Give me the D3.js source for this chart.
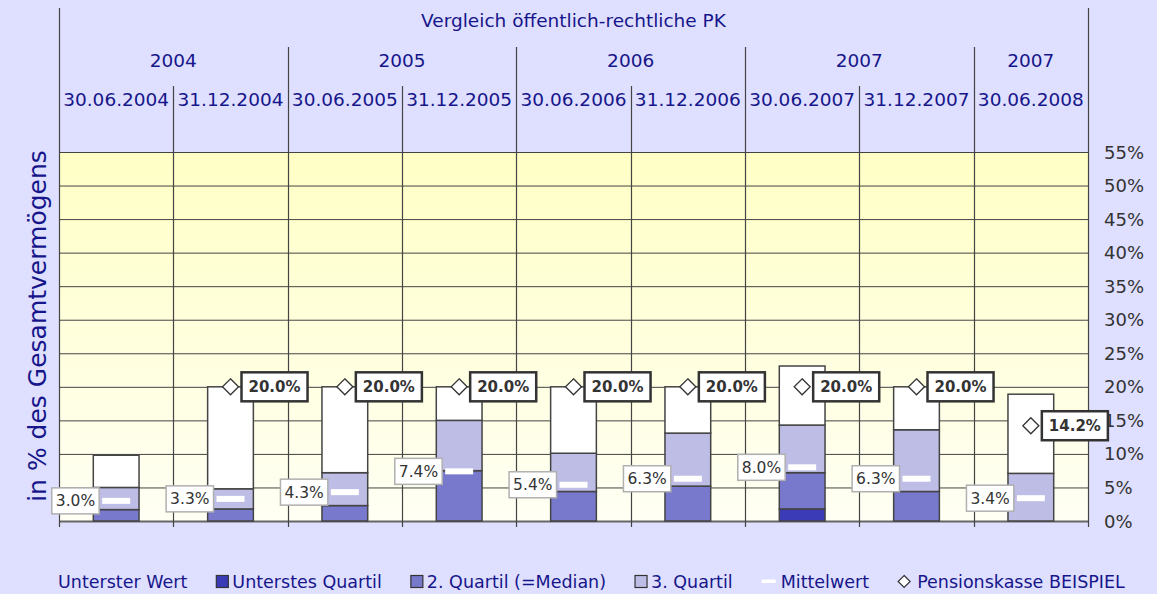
<!DOCTYPE html>
<html>
<head>
<meta charset="utf-8">
<script src="https://cdn.jsdelivr.net/npm/d3@7"></script>
<style>
  body { margin: 0; background: #dfdfff; }
  svg { display: block; font-family: "DejaVu Sans", Verdana, sans-serif; }
</style>
</head>
<body>
<div id="chart"></div>
<script>
// chart data
var title = "Vergleich öffentlich-rechtliche PK";
var dates = ["30.06.2004", "31.12.2004", "30.06.2005", "31.12.2005", "30.06.2006",
             "31.12.2006", "30.06.2007", "31.12.2007", "30.06.2008"];
var yearLabels = ["2004", "2005", "2006", "2007", "2007"];
var yearSpans = [2, 2, 2, 2, 1];

var minValues    = [0, 0, 0, 0, 0, 0, 0, 0, 0];
var q1Values     = [0, 0, 0, 0, 0, 0, 1.8, 0, 0];
var medianValues = [1.7, 1.8, 2.3, 7.5, 4.4, 5.2, 7.2, 4.4, 0];
var q3Values     = [5.0, 4.8, 7.2, 15.0, 10.1, 13.1, 14.3, 13.6, 7.1];
var maxValues    = [9.8, 20.0, 20.0, 20.0, 20.0, 20.0, 23.1, 20.0, 18.9];
var meanValues   = [3.0, 3.3, 4.3, 7.4, 5.4, 6.3, 8.0, 6.3, 3.4];
var pensionValues = [null, 20.0, 20.0, 20.0, 20.0, 20.0, 20.0, 20.0, 14.2];

var yTicks = [0, 5, 10, 15, 20, 25, 30, 35, 40, 45, 50, 55];
var legendNames = ["Unterster Wert", "Unterstes Quartil", "2. Quartil (=Median)", "3. Quartil", "Mittelwert", "Pensionskasse BEISPIEL"];

// layout
var width = 1157, height = 594;
var plot = {left: 59, right: 1088, top: 152, bottom: 521};
var navy = "#16168a";
var segColors = ["none", "#3b3bb8", "#7878cc", "#bdbde6", "#ffffff"];

var svg = d3.select("#chart").append("svg")
    .attr("width", width)
    .attr("height", height);

var defs = svg.append("defs");
var grad = defs.append("linearGradient")
    .attr("id", "plotbg")
    .attr("x1", 0).attr("y1", 0).attr("x2", 0).attr("y2", 1);
grad.append("stop").attr("offset", "0%").attr("stop-color", "#ffffc6");
grad.append("stop").attr("offset", "100%").attr("stop-color", "#fffff4");

var x = d3.scaleBand()
    .domain(dates)
    .range([plot.left, plot.right])
    .padding(0);

var y = d3.scaleLinear()
    .domain([0, 55])
    .range([plot.bottom, plot.top]);

var bw = x.bandwidth();
var barW = bw * 0.4;

svg.append("rect")
    .attr("x", plot.left)
    .attr("y", plot.top)
    .attr("width", plot.right - plot.left)
    .attr("height", plot.bottom - plot.top)
    .attr("fill", "url(#plotbg)");

// horizontal grid
svg.append("g").selectAll("line")
    .data(yTicks)
    .enter().append("line")
    .attr("x1", plot.left).attr("x2", plot.right)
    .attr("y1", function (d) { return y(d) + 0.5; })
    .attr("y2", function (d) { return y(d) + 0.5; })
    .attr("stroke", function (d) { return d === 0 ? "#666" : "#444"; })
    .attr("stroke-width", function (d) { return d === 0 ? 2 : 1; });

// vertical boundaries: category, year and outer frame lines
var bounds = dates.map(function (d) { return x(d); }).concat([plot.right]);
var yearStarts = [0];
yearSpans.forEach(function (s, i) { yearStarts.push(yearStarts[i] + s); });

svg.append("g").selectAll("line")
    .data(bounds)
    .enter().append("line")
    .attr("x1", function (d) { return Math.round(d) + 0.5; })
    .attr("x2", function (d) { return Math.round(d) + 0.5; })
    .attr("y1", function (d, i) {
        if (i === 0 || i === bounds.length - 1) return 8;
        if (yearStarts.indexOf(i) >= 0) return 47;
        return 86;
    })
    .attr("y2", plot.bottom + 6)
    .attr("stroke", "#444")
    .attr("stroke-width", 1.2);

// y axis labels on the right
svg.append("g").selectAll("text")
    .data(yTicks)
    .enter().append("text")
    .attr("x", 1104)
    .attr("y", function (d) { return y(d) + 6.5; })
    .attr("fill", "#333")
    .attr("font-size", 18)
    .text(function (d) { return d + "%"; });

// header texts
svg.append("text")
    .attr("x", (plot.left + plot.right) / 2)
    .attr("y", 27)
    .attr("text-anchor", "middle")
    .attr("fill", navy)
    .attr("font-size", 18.5)
    .text(title);

svg.append("g").selectAll("text")
    .data(yearLabels)
    .enter().append("text")
    .attr("x", function (d, i) {
        var a = x(dates[yearStarts[i]]);
        var b = a + yearSpans[i] * bw;
        return (a + b) / 2;
    })
    .attr("y", 67)
    .attr("text-anchor", "middle")
    .attr("fill", navy)
    .attr("font-size", 18.5)
    .text(function (d) { return d; });

svg.append("g").selectAll("text")
    .data(dates)
    .enter().append("text")
    .attr("x", function (d) { return x(d) + bw / 2; })
    .attr("y", 106)
    .attr("text-anchor", "middle")
    .attr("fill", navy)
    .attr("font-size", 18.5)
    .text(function (d) { return d; });

// y axis title
svg.append("text")
    .attr("transform", "translate(46,326) rotate(-90)")
    .attr("text-anchor", "middle")
    .attr("fill", navy)
    .attr("font-size", 25)
    .text("in % des Gesamtvermögens");

// stacked boxes
var rows = dates.map(function (d, i) {
    return {
        date: d,
        s0: minValues[i],
        s1: q1Values[i] - minValues[i],
        s2: medianValues[i] - q1Values[i],
        s3: q3Values[i] - medianValues[i],
        s4: maxValues[i] - q3Values[i]
    };
});
var keys = ["s0", "s1", "s2", "s3", "s4"];
var series = d3.stack().keys(keys)(rows);

var layer = svg.append("g").selectAll("g")
    .data(series)
    .enter().append("g")
    .attr("fill", function (d, i) { return segColors[i]; })
    .attr("stroke", function (d, i) { return i === 0 ? "none" : "#444"; })
    .attr("stroke-width", 1.5);

layer.selectAll("rect")
    .data(function (d) { return d.filter(function (s) { return s[1] - s[0] > 0; }); })
    .enter().append("rect")
    .attr("x", function (d) { return x(d.data.date) + (bw - barW) / 2; })
    .attr("y", function (d) { return y(d[1]); })
    .attr("width", barW)
    .attr("height", function (d) { return y(d[0]) - y(d[1]); });

// mean dashes
svg.append("g").selectAll("rect")
    .data(meanValues)
    .enter().append("rect")
    .attr("x", function (d, i) { return x(dates[i]) + bw / 2 - 14; })
    .attr("y", function (d) { return y(d) - 3; })
    .attr("width", 28)
    .attr("height", 6)
    .attr("fill", "#fff");

// mean labels
var meanLab = svg.append("g").selectAll("g")
    .data(meanValues)
    .enter().append("g")
    .attr("transform", function (d, i) {
        return "translate(" + (x(dates[i]) + bw / 2 - 17) + "," + y(d) + ")";
    });
meanLab.append("rect")
    .attr("fill", "#fff")
    .attr("stroke", "#b0b0b0")
    .attr("stroke-width", 1.5);
meanLab.append("text")
    .attr("x", -4)
    .attr("y", 5.5)
    .attr("text-anchor", "end")
    .attr("fill", "#333")
    .attr("font-size", 15.5)
    .text(function (d) { return d.toFixed(1) + "%"; })
    .each(function () {
        var b = this.getBBox();
        d3.select(this.parentNode).select("rect")
            .attr("x", b.x - 4)
            .attr("y", -13)
            .attr("width", b.width + 8)
            .attr("height", 26);
    });

// Pensionskasse markers and labels
var pk = svg.append("g").selectAll("g")
    .data(pensionValues.map(function (v, i) { return {v: v, date: dates[i]}; })
        .filter(function (d) { return d.v !== null; }))
    .enter().append("g")
    .attr("transform", function (d) {
        return "translate(" + (x(d.date) + bw / 2) + "," + y(d.v) + ")";
    });
pk.append("path")
    .attr("d", "M0,-8L8,0L0,8L-8,0Z")
    .attr("fill", "#fff")
    .attr("stroke", "#333")
    .attr("stroke-width", 1.3);
pk.append("rect")
    .attr("fill", "#fff")
    .attr("stroke", "#333")
    .attr("stroke-width", 2.5);
pk.append("text")
    .attr("x", 18)
    .attr("y", 5.5)
    .attr("fill", "#333")
    .attr("font-size", 15)
    .attr("font-weight", "bold")
    .text(function (d) { return d.v.toFixed(1) + "%"; })
    .each(function () {
        var b = this.getBBox();
        d3.select(this.parentNode).select("rect")
            .attr("x", 11)
            .attr("y", -14.5)
            .attr("width", b.width + 14)
            .attr("height", 29);
    });

// legend
var legend = svg.append("g").attr("transform", "translate(0,588)");
var lx = 58;
legendNames.forEach(function (name, i) {
    if (i === 1 || i === 2 || i === 3) {
        legend.append("rect")
            .attr("x", lx).attr("y", -12.5)
            .attr("width", 12).attr("height", 12)
            .attr("fill", segColors[i])
            .attr("stroke", "#333")
            .attr("stroke-width", 1.2);
        lx += 16;
    } else if (i === 4) {
        legend.append("rect")
            .attr("x", lx).attr("y", -8.5)
            .attr("width", 14).attr("height", 3.5)
            .attr("fill", "#fff");
        lx += 19;
    } else if (i === 5) {
        legend.append("path")
            .attr("d", "M" + (lx + 6) + ",-12.5L" + (lx + 12) + ",-6.5L" + (lx + 6) + ",-0.5L" + lx + ",-6.5Z")
            .attr("fill", "#fff")
            .attr("stroke", "#333")
            .attr("stroke-width", 1.2);
        lx += 19;
    }
    var t = legend.append("text")
        .attr("x", lx)
        .attr("fill", navy)
        .attr("font-size", 17.5)
        .text(name);
    lx += t.node().getComputedTextLength() + 29;
});
</script>
</body>
</html>
